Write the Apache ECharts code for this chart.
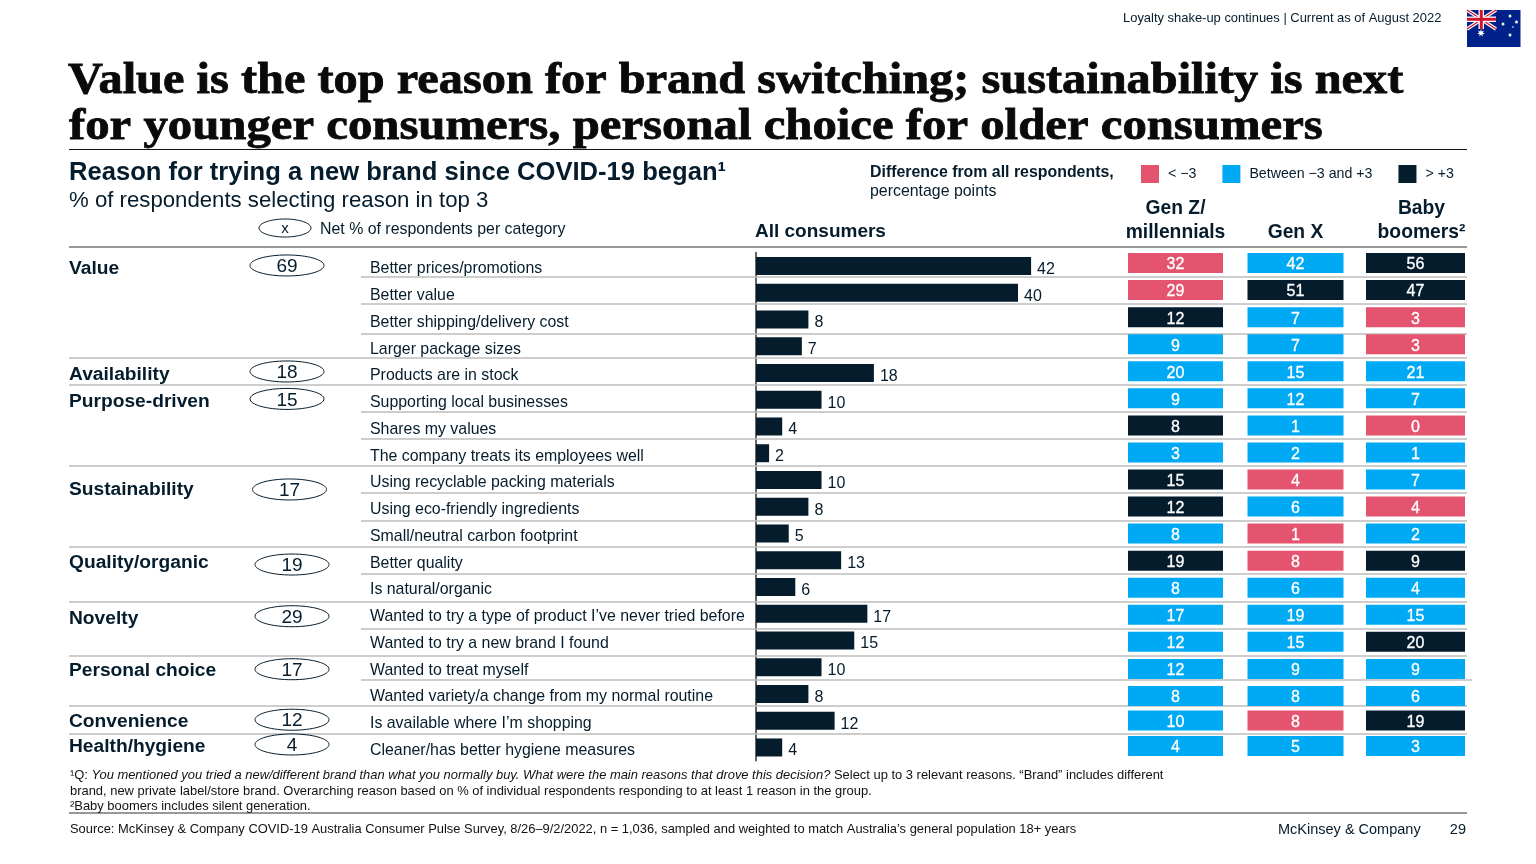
<!DOCTYPE html>
<html><head><meta charset="utf-8">
<style>html,body{margin:0;padding:0;background:#fff}#c{width:1536px;height:864px}</style>
<script src="https://cdn.jsdelivr.net/npm/echarts@6/dist/echarts.min.js"></script>
</head><body><div id="c"></div>
<script>
// ---------- data ----------
const reasons = ["Better prices/promotions","Better value","Better shipping/delivery cost","Larger package sizes","Products are in stock","Supporting local businesses","Shares my values","The company treats its employees well","Using recyclable packing materials","Using eco-friendly ingredients","Small/neutral carbon footprint","Better quality","Is natural/organic","Wanted to try a type of product I’ve never tried before","Wanted to try a new brand I found","Wanted to treat myself","Wanted variety/a change from my normal routine","Is available where I’m shopping","Cleaner/has better hygiene measures"];
const allConsumers = [42,40,8,7,18,10,4,2,10,8,5,13,6,17,15,10,8,12,4];
const generations = ["Gen Z/\nmillennials","Gen X","Baby\nboomers²"];
const genZ    = [32,29,12,9,20,9,8,3,15,12,8,19,8,17,12,12,8,10,4];
const genX    = [42,51,7,7,15,12,1,2,4,6,1,8,6,19,15,9,8,8,5];
const boomers = [56,47,3,3,21,7,0,1,7,4,2,9,4,15,20,9,6,19,3];
// difference band per cell: L = below -3, M = between, H = above +3
const genZBand    = "LLHMMMHMHHMHMMMMMMM".split("");
const genXBand    = "MHMMMMMMLMLLMMMMMLM".split("");
const boomersBand = "HHLLMMLMMLMHMMHMMHM".split("");
const groupNames = ["Value","Availability","Purpose-driven","Sustainability","Quality/organic","Novelty","Personal choice","Convenience","Health/hygiene"];
const groupRows  = [0,4,5,8,11,13,15,17,18];
const groupNet   = [69,18,15,17,19,29,17,12,4];
const bandNames  = {L:"< −3",M:"Between −3 and +3",H:"> +3"};
const titleLines = ["Value is the top reason for brand switching; sustainability is next","for younger consumers, personal choice for older consumers"];

// ---------- layout & style (separate from data) ----------
const INK="#051C2C", PINK="#E5546F", BLUE="#00A9F4", RULE="#BDBDBD", SANS='"Liberation Sans",Arial,sans-serif', SERIF='"Liberation Serif",serif';
const bandColors={L:PINK,M:BLUE,H:INK};
const cellWidths=[95,96,99], cellHeight=20;
const groupTextDy=[3,2,2.2,9.5,2.7,4.5,3,0.7,-0.3];
const groupEllDy=[-0.5,-1.5,-0.8,9.5,4.3,2.5,2,-1,-3];
const groupEllX=[287,287,287,289.5,292,292,292,292,292];
const innerRules=[277,304,334,412,439,493,521,574,629,680];
const fullRules=[358,385,466,547,602,656,706,734];

const T=(text,x,y,size,o={})=>({type:'text',z:10,silent:true,style:Object.assign({x,y,text,fill:o.fill||INK,
  font:`${o.italic?'italic ':''}${o.bold?'bold ':''}${size}px ${SANS}`,
  align:o.align||'left',textAlign:o.align||'left',verticalAlign:'middle',textVerticalAlign:'middle'},o.style||{})});
const L=(x1,y,x2,stroke,w)=>({type:'line',z:1,silent:true,shape:{x1,y1:y,x2,y2:y},style:{stroke,lineWidth:w}});
const titleEl=(text,x,y,sx)=>({type:'text',z:10,silent:true,x,y,scaleX:sx,originX:0,originY:0,style:{x:0,y:0,text,fill:'#0a0a0a',stroke:'#0a0a0a',lineWidth:0.8,
  font:`bold 44px ${SERIF}`,align:'left',textAlign:'left',verticalAlign:'middle',textVerticalAlign:'middle'}});
const star=(cx,cy,r)=>{const pts=[];for(let i=0;i<14;i++){const a=-Math.PI/2+i*Math.PI/7,q=i%2?r*0.45:r;pts.push([cx+q*Math.cos(a),cy+q*Math.sin(a)]);}
  return {type:'polygon',shape:{points:pts},style:{fill:'#fff'}};};

const graphics=[
  T("Loyalty shake-up continues | Current as of August 2022",1123,18,12.95),
  titleEl(titleLines[0],68,82,1.099),
  titleEl(titleLines[1],69,128,1.108),
  L(69,149.5,1467,"#111",1.2),
  T("Reason for trying a new brand since COVID-19 began¹",69,172.5,25.6,{bold:true}),
  T("% of respondents selecting reason in top 3",69,200.5,22.2),
  {type:'ellipse',z:5,silent:true,shape:{cx:285,cy:228,rx:26,ry:9},style:{fill:'#fff',stroke:INK,lineWidth:1}},
  T("x",285,229,15,{align:'center'}),
  T("Net % of respondents per category",320,229.5,15.9),
  T("All consumers",755,232,19,{bold:true}),
  T("Difference from all respondents,",870,172.5,15.9,{bold:true}),
  T("percentage points",870,192,15.9),
  L(69,247,1467,"#9A9A9A",2),
  L(69,813,1467,"#333",1.2),
  {type:'text',z:10,silent:true,style:{x:70,y:775,verticalAlign:'middle',textVerticalAlign:'middle',
    text:"¹Q: {i|You mentioned you tried a new/different brand than what you normally buy. What were the main reasons that drove this decision?} Select up to 3 relevant reasons. “Brand” includes different",
    fill:"#111",font:`12.93px ${SANS}`,rich:{i:{fontStyle:'italic',fontSize:12.93,fontFamily:SANS,fill:"#111"}}}},
  T("brand, new private label/store brand. Overarching reason based on % of individual respondents responding to at least 1 reason in the group.",70,791,12.93,{fill:"#111"}),
  T("²Baby boomers includes silent generation.",70,806,12.93,{fill:"#111"}),
  T("Source: McKinsey & Company COVID-19 Australia Consumer Pulse Survey, 8/26–9/2/2022, n = 1,036, sampled and weighted to match Australia’s general population 18+ years",70,829,12.9,{fill:"#111"}),
  T("McKinsey & Company",1278,830,14.5),
  T("29",1466,830,14.5,{align:'right'}),
  // flag
  {type:'group',z:10,silent:true,x:1467,y:10,children:[
    {type:'rect',shape:{x:0,y:0,width:53.5,height:37},style:{fill:'#00208A'}},
    {type:'line',shape:{x1:0,y1:0,x2:29,y2:19},style:{stroke:'#fff',lineWidth:3.5}},
    {type:'line',shape:{x1:29,y1:0,x2:0,y2:19},style:{stroke:'#fff',lineWidth:3.5}},
    {type:'line',shape:{x1:0,y1:0,x2:29,y2:19},style:{stroke:'#CF142B',lineWidth:1.2}},
    {type:'line',shape:{x1:29,y1:0,x2:0,y2:19},style:{stroke:'#CF142B',lineWidth:1.2}},
    {type:'rect',shape:{x:11.5,y:0,width:5.5,height:19},style:{fill:'#fff'}},
    {type:'rect',shape:{x:0,y:6.5,width:29,height:5.5},style:{fill:'#fff'}},
    {type:'rect',shape:{x:12.8,y:0,width:3,height:19},style:{fill:'#CF142B'}},
    {type:'rect',shape:{x:0,y:7.8,width:29,height:3},style:{fill:'#CF142B'}},
    star(14,23,4),star(43,6,2.2),star(36,14,2.2),star(49.5,12,2.2),star(43,25,2.2),star(46,17,1.2)
  ]}
];
fullRules.forEach(y=>graphics.push(L(69,y,1467,RULE,1.6)));
innerRules.forEach(y=>graphics.push(L(361,y,y===680?1472:1467,RULE,1.6)));

// heat-table series, one per band and per row-block
function cellSeries(band,gridIdx,rowFrom,rowTo){
  const data=[];
  [[genZ,genZBand],[genX,genXBand],[boomers,boomersBand]].forEach((pair,col)=>{
    pair[0].forEach((v,r)=>{ if(r>=rowFrom&&r<rowTo&&pair[1][r]===band) data.push([col,r-rowFrom,v]); });
  });
  return {type:'custom',name:bandNames[band],xAxisIndex:gridIdx,yAxisIndex:gridIdx,z:5,
    itemStyle:{color:bandColors[band]},encode:{x:0,y:1},data,
    renderItem(p,api){
      const col=api.value(0), c=api.coord([col,api.value(1)]), w=cellWidths[col];
      return {type:'group',children:[
        {type:'rect',shape:{x:c[0]-w/2,y:c[1]-cellHeight/2,width:w,height:cellHeight},style:{fill:bandColors[band]}},
        {type:'text',style:{x:c[0],y:c[1]+2,text:String(api.value(2)),fill:'#fff',stroke:'#fff',lineWidth:0.3,font:`16px ${SANS}`,align:'center',textAlign:'center',verticalAlign:'middle',textVerticalAlign:'middle'}}
      ]};
    }};
}

const rowsAll=reasons.map((_,i)=>i);
const option={
  animation:false,backgroundColor:'#fff',
  legend:{left:1141,top:165,padding:0,itemWidth:18,itemHeight:18,itemGap:26,selectedMode:false,icon:'rect',
    data:[bandNames.L,bandNames.M,bandNames.H],textStyle:{fontFamily:SANS,fontSize:14.2,color:INK,padding:[0,0,0,4]}},
  grid:[
    {left:756,top:252.6,width:327.5,height:508.25},
    {left:1115.5,top:249.5,width:360,height:460},
    {left:1115.5,top:707.75,width:360,height:51}
  ],
  xAxis:[
    {type:'value',gridIndex:0,min:0,max:50,show:false},
    {type:'category',gridIndex:1,data:generations,position:'top',axisLine:{show:false},axisTick:{show:false},
      axisLabel:{interval:0,margin:5.5,fontFamily:SANS,fontSize:19.3,fontWeight:'bold',lineHeight:23.5,color:INK,
        formatter:v=>v===generations[2]?v.split("\n").map(s=>`{b|${s}}`).join("\n"):v,
        rich:{b:{fontFamily:SANS,fontSize:19.3,fontWeight:'bold',lineHeight:23.5,color:INK,padding:[0,0,0,12]}}}},
    {type:'category',gridIndex:2,data:generations,show:false}
  ],
  yAxis:[
    {type:'category',gridIndex:0,inverse:true,data:reasons,axisTick:{show:false},
      axisLine:{show:true,lineStyle:{color:'#333',width:1.5}},
      axisLabel:{interval:0,align:'left',verticalAlign:'top',lineHeight:6,margin:386,fontFamily:SANS,fontSize:15.9,color:INK}},
    {type:'category',gridIndex:1,inverse:true,data:rowsAll.slice(0,17),show:false},
    {type:'category',gridIndex:2,inverse:true,data:rowsAll.slice(17),show:false}
  ],
  series:[
    {type:'bar',name:'All consumers',xAxisIndex:0,yAxisIndex:0,data:allConsumers,barWidth:18,z:5,itemStyle:{color:INK},
      label:{show:true,position:'right',distance:6,verticalAlign:'top',lineHeight:7,fontFamily:SANS,fontSize:16,color:INK}},
    {type:'custom',name:'Groups',xAxisIndex:0,yAxisIndex:0,z:6,silent:true,
      data:groupRows.map((r,i)=>[0,r,groupNet[i],i]),encode:{x:0,y:1},
      renderItem(p,api){
        const i=api.value(3), y=api.coord([0,api.value(1)])[1], ex=groupEllX[i], ey=y+groupEllDy[i];
        return {type:'group',children:[
          {type:'text',style:{x:69,y:y+groupTextDy[i],text:groupNames[i],fill:INK,font:`bold 19.2px ${SANS}`,align:'left',textAlign:'left',verticalAlign:'middle',textVerticalAlign:'middle'}},
          {type:'ellipse',shape:{cx:ex,cy:ey,rx:37,ry:10.5},style:{fill:'#fff',stroke:INK,lineWidth:1}},
          {type:'text',style:{x:ex,y:ey+1.5,text:String(api.value(2)),fill:INK,font:`19px ${SANS}`,align:'center',textAlign:'center',verticalAlign:'middle',textVerticalAlign:'middle'}}
        ]};
      }},
    ...['L','M','H'].map(b=>cellSeries(b,1,0,17)),
    ...['L','M','H'].map(b=>cellSeries(b,2,17,19))
  ],
  graphic:graphics
};
echarts.init(document.getElementById('c')).setOption(option);
</script></body></html>
